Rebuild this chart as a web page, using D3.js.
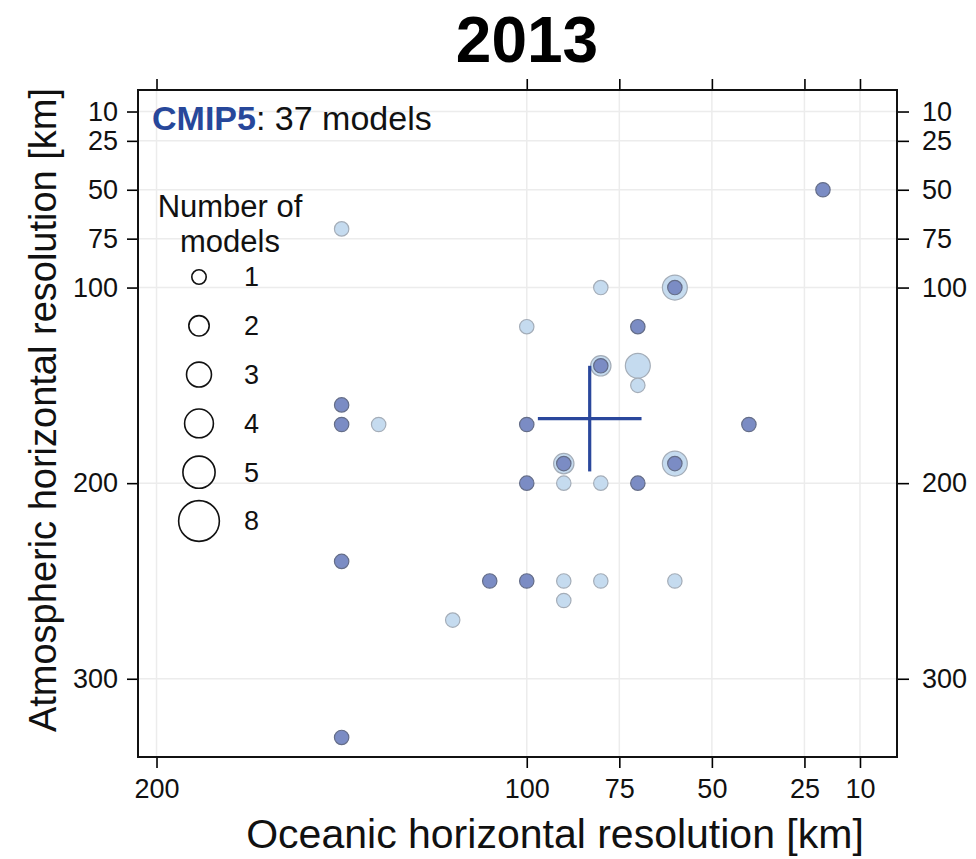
<!DOCTYPE html>
<html>
<head>
<meta charset="utf-8">
<script src="https://cdn.jsdelivr.net/npm/d3@7"></script>
<style>
  html, body { margin: 0; padding: 0; background: #fff; }
  svg { display: block; font-family: "Liberation Sans", Arial, Helvetica, sans-serif; }
</style>
</head>
<body>
<svg id="chart" width="976" height="859"></svg>
<script>
// Horizontal resolution of each CMIP5 model group (km) and how many models share it
const lightOcean = [150, 80, 60, 100, 80, 70, 70, 140, 90, 60, 90, 80, 90, 80, 60, 90, 120];
const lightAtmos = [70, 100, 100, 120, 140, 140, 150, 170, 190, 190, 200, 200, 250, 250, 250, 260, 270];
const lightCount = [1, 1, 3, 1, 2, 3, 1, 1, 2, 3, 1, 1, 1, 1, 1, 1, 1];

const darkOcean = [20, 60, 70, 80, 150, 150, 100, 40, 90, 60, 100, 70, 150, 110, 100, 150];
const darkAtmos = [50, 100, 120, 140, 160, 170, 170, 170, 190, 190, 200, 200, 240, 250, 250, 330];
const darkCount = [1, 1, 1, 1, 1, 1, 1, 1, 1, 1, 1, 1, 1, 1, 1, 1];

// Ensemble mean and spread
const meanOcean = 83, meanAtmos = 167;
const spreadOcean = [97, 69];
const spreadAtmos = [140, 194];

const xTicks = [200, 100, 75, 50, 25, 10];
const yTicks = [10, 25, 50, 75, 100, 200, 300];
const legendCounts = [1, 2, 3, 4, 5, 8];

const titleText = "2013";
const projectName = "CMIP5";
const modelCountText = ": 37 models";

const svg = d3.select("#chart");
const plotL = 138, plotR = 897, plotT = 90, plotB = 757;

const x = d3.scaleLinear().domain([205, 0]).range([plotL, plotR]);
const y = d3.scaleLinear().domain([-1, 340]).range([plotT, plotB]);
const r = d3.scaleSqrt().domain([0, 1]).range([0, 7.2]);

// Grid
const grid = svg.append("g");
grid.selectAll("line.gx").data(xTicks).join("line")
  .attr("x1", d => x(d)).attr("x2", d => x(d))
  .attr("y1", plotT).attr("y2", plotB)
  .attr("stroke", "#ececec").attr("stroke-width", 1.5);
grid.selectAll("line.gy").data(yTicks).join("line")
  .attr("y1", d => y(d)).attr("y2", d => y(d))
  .attr("x1", plotL).attr("x2", plotR)
  .attr("stroke", "#ececec").attr("stroke-width", 1.5);

// Axes
const tickFont = 27;
function styleAxis(g, showLabels) {
  g.select(".domain").remove();
  g.selectAll(".tick line").attr("stroke", "#000").attr("stroke-width", 1.6);
  g.selectAll(".tick text").attr("font-size", tickFont).attr("fill", "#111")
    .attr("font-family", "'Liberation Sans', Arial, sans-serif");
  if (!showLabels) g.selectAll(".tick text").remove();
}
svg.append("g").attr("transform", `translate(0,${plotB})`)
  .call(d3.axisBottom(x).tickValues(xTicks).tickSize(11).tickPadding(11))
  .call(g => styleAxis(g, true));
svg.append("g").attr("transform", `translate(0,${plotT})`)
  .call(d3.axisTop(x).tickValues(xTicks).tickSize(11))
  .call(g => styleAxis(g, false));
svg.append("g").attr("transform", `translate(${plotL},0)`)
  .call(d3.axisLeft(y).tickValues(yTicks).tickSize(11).tickPadding(9))
  .call(g => styleAxis(g, true));
svg.append("g").attr("transform", `translate(${plotR},0)`)
  .call(d3.axisRight(y).tickValues(yTicks).tickSize(12).tickPadding(13))
  .call(g => styleAxis(g, true));

// Frame
svg.append("rect").attr("x", plotL).attr("y", plotT)
  .attr("width", plotR - plotL).attr("height", plotB - plotT)
  .attr("fill", "none").attr("stroke", "#111").attr("stroke-width", 2);

// Points
const lightData = lightOcean.map((d, i) => ({ o: d, a: lightAtmos[i], n: lightCount[i] }))
  .sort((p, q) => q.n - p.n);
const darkData = darkOcean.map((d, i) => ({ o: d, a: darkAtmos[i], n: darkCount[i] }));

svg.append("g").selectAll("circle").data(lightData).join("circle")
  .attr("cx", d => x(d.o)).attr("cy", d => y(d.a)).attr("r", d => r(d.n))
  .attr("fill", "#c5dbef").attr("stroke", "#a4adb8").attr("stroke-width", 1.2);
svg.append("g").selectAll("circle").data(darkData).join("circle")
  .attr("cx", d => x(d.o)).attr("cy", d => y(d.a)).attr("r", d => r(d.n))
  .attr("fill", "#7b8cc4").attr("stroke", "#646d88").attr("stroke-width", 1.2);

// Mean cross
const cross = svg.append("g").attr("stroke", "#2a479c").attr("stroke-width", 3.2);
cross.append("line").attr("x1", x(spreadOcean[0])).attr("x2", x(spreadOcean[1]))
  .attr("y1", y(meanAtmos)).attr("y2", y(meanAtmos));
cross.append("line").attr("x1", x(meanOcean)).attr("x2", x(meanOcean))
  .attr("y1", y(spreadAtmos[0])).attr("y2", y(spreadAtmos[1]));

// Header text inside plot
const head = svg.append("text").attr("x", 152).attr("y", 130).attr("font-size", 34);
head.append("tspan").text(projectName).attr("font-weight", "bold").attr("fill", "#27479a");
head.append("tspan").text(modelCountText).attr("fill", "#111");

// Legend
const legX = 199;
svg.append("text").attr("x", 230).attr("y", 217).attr("text-anchor", "middle")
  .attr("font-size", 31).attr("fill", "#111").text("Number of");
svg.append("text").attr("x", 230).attr("y", 252).attr("text-anchor", "middle")
  .attr("font-size", 31).attr("fill", "#111").text("models");
const legY = d3.scalePoint().domain(legendCounts).range([277, 521]);
const leg = svg.append("g");
leg.selectAll("circle").data(legendCounts).join("circle")
  .attr("cx", legX).attr("cy", d => legY(d)).attr("r", d => r(d))
  .attr("fill", "none").attr("stroke", "#111").attr("stroke-width", 1.6);
leg.selectAll("text").data(legendCounts).join("text")
  .attr("x", 244).attr("y", d => legY(d)).attr("dy", "0.35em")
  .attr("font-size", 27).attr("fill", "#111").text(d => d);

// Titles
svg.append("text").attr("x", 527).attr("y", 62).attr("text-anchor", "middle")
  .attr("font-size", 64).attr("font-weight", "bold").attr("fill", "#000").text(titleText);
svg.append("text").attr("x", 555).attr("y", 848).attr("text-anchor", "middle")
  .attr("font-size", 41).attr("fill", "#111").text("Oceanic horizontal resolution [km]");
svg.append("text").attr("transform", "translate(56,410) rotate(-90)").attr("text-anchor", "middle")
  .attr("font-size", 38).attr("fill", "#111").text("Atmospheric horizontal resolution [km]");
</script>
</body>
</html>
